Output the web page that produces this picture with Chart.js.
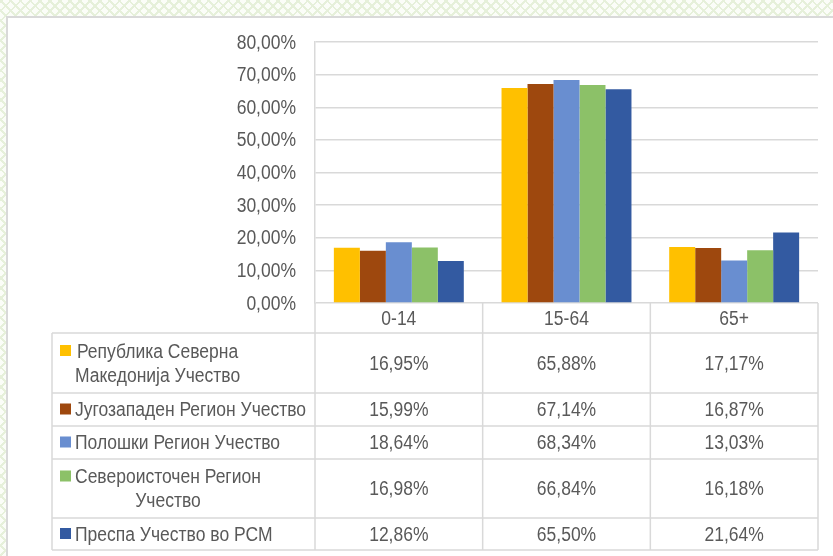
<!DOCTYPE html>
<html>
<head>
<meta charset="utf-8">
<script src="https://cdn.jsdelivr.net/npm/chart.js@4/dist/chart.umd.min.js"></script>
<style>
  html, body { margin: 0; padding: 0; }
  body {
    width: 833px; height: 556px; overflow: hidden; position: relative;
    background-color: #fbfdf8;
    background-image:
      repeating-linear-gradient(45deg, #e6f0da 0 2px, transparent 2px 7px),
      repeating-linear-gradient(-45deg, #e6f0da 0 2px, transparent 2px 7px);
  }
  #box {
    position: absolute; left: 6px; top: 16px; width: 840px; height: 560px;
    background: #fff; border: 2px solid #d9d9d9;
  }
  #c { position: absolute; left: 0; top: 0; }
</style>
</head>
<body>
<div id="box"></div>
<canvas id="c" width="833" height="556"></canvas>
<script>
// données
const categories = ['0-14', '15-64', '65+'];
const seriesLabels = [
    ['Република Северна', 'Македонија Учество'],
    ['Југозападен Регион Учество'],
    ['Полошки Регион Учество'],
    ['Североисточен Регион', 'Учество'],
    ['Преспа Учество во РСМ']
];
const republika = [16.95, 65.88, 17.17];
const jugozapaden = [15.99, 67.14, 16.87];
const poloski = [18.64, 68.34, 13.03];
const severoistocen = [16.98, 66.84, 16.18];
const prespa = [12.86, 65.50, 21.64];
const yTicks = [0, 10, 20, 30, 40, 50, 60, 70, 80];

const colors = ['#FFC000', '#9E480E', '#698ED0', '#8CC168', '#335AA1'];
const allSeries = [republika, jugozapaden, poloski, severoistocen, prespa];
const fontFamily = '"Liberation Sans", Arial, sans-serif';
const textColor = '#595959';
const lineColor = '#d9d9d9';
const squeeze = 0.875; // texte étroit comme dans l'original

const fmt = v => v.toFixed(2).replace('.', ',') + '%';

function narrowText(ctx, text, x, y, align) {
    ctx.save();
    ctx.translate(x, y);
    ctx.scale(squeeze, 1);
    ctx.textAlign = align;
    ctx.fillText(text, 0, 0);
    ctx.restore();
}

// étiquettes de l'axe Y + tableau de données sous le graphique
const dataTable = {
    id: 'dataTable',
    afterDraw(chart) {
        const ctx = chart.ctx;
        const x = chart.scales.x;
        const y = chart.scales.y;
        const area = chart.chartArea;
        const catW = x.width / categories.length;
        const tableLeft = 52;
        const rows = [0, 30, 90, 123, 156, 215, 247].map(o => area.bottom + o);

        ctx.save();
        ctx.fillStyle = textColor;
        ctx.font = '20px ' + fontFamily;
        ctx.textBaseline = 'middle';
        y.ticks.forEach(t => {
            narrowText(ctx, fmt(t.value), area.left - 19, y.getPixelForValue(t.value) + 1, 'right');
        });

        ctx.strokeStyle = lineColor;
        ctx.lineWidth = 1.5;
        ctx.beginPath();
        for (let i = 0; i <= categories.length; i++) {
            const px = area.left + i * catW;
            ctx.moveTo(px, rows[0]);
            ctx.lineTo(px, rows[rows.length - 1]);
        }
        ctx.moveTo(area.left, rows[1]);
        ctx.lineTo(area.right, rows[1]);
        for (let r = 1; r < rows.length; r++) {
            ctx.moveTo(tableLeft, rows[r]);
            ctx.lineTo(area.right, rows[r]);
        }
        ctx.moveTo(tableLeft, rows[1]);
        ctx.lineTo(tableLeft, rows[rows.length - 1]);
        ctx.stroke();

        categories.forEach((c, i) => {
            narrowText(ctx, c, x.getPixelForValue(i), (rows[0] + rows[1]) / 2 + 1, 'center');
        });

        allSeries.forEach((s, r) => {
            const cy = (rows[r + 1] + rows[r + 2]) / 2 + 1;
            ctx.fillStyle = textColor;
            s.forEach((v, i) => {
                narrowText(ctx, fmt(v), x.getPixelForValue(i), cy, 'center');
            });
            const lines = seriesLabels[r];
            const lh = 24;
            const top = cy - (lines.length - 1) * lh / 2;
            const bw = Math.max(...lines.map(l => ctx.measureText(l).width)) * squeeze;
            lines.forEach((l, k) => {
                narrowText(ctx, l, 75 + bw / 2, top + k * lh, 'center');
            });
            ctx.fillStyle = colors[r];
            ctx.fillRect(60, top - 7, 11, 11);
        });
        ctx.restore();
    }
};

new Chart(document.getElementById('c').getContext('2d'), {
    type: 'bar',
    data: {
        labels: categories,
        datasets: allSeries.map((s, i) => ({
            label: seriesLabels[i].join(' '),
            data: s,
            backgroundColor: colors[i],
            borderWidth: 0,
            categoryPercentage: 0.775,
            barPercentage: 1.0
        }))
    },
    options: {
        responsive: false,
        animation: false,
        layout: { padding: { top: 42, right: 15, bottom: 253, left: 0 } },
        plugins: { legend: { display: false }, tooltip: { enabled: false } },
        scales: {
            x: { display: false },
            y: {
                min: 0,
                max: 80,
                afterFit(scale) { scale.width = 315; },
                afterBuildTicks(scale) { scale.ticks = yTicks.map(v => ({ value: v })); },
                grid: { color: lineColor, lineWidth: 1.5, drawTicks: false },
                border: { display: true, color: lineColor, width: 1.5 },
                ticks: { display: false }
            }
        }
    },
    plugins: [dataTable]
});
</script>
</body>
</html>
